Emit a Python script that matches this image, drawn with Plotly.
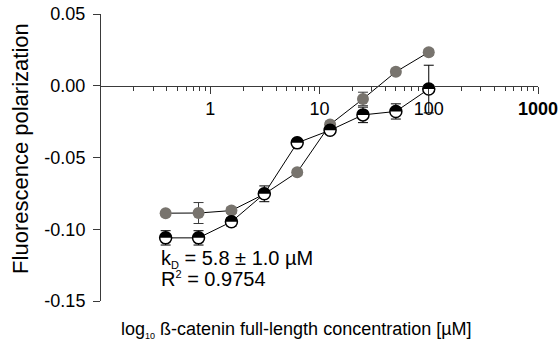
import plotly.graph_objects as go

# Data
conc = [0.390625, 0.78125, 1.5625, 3.125, 6.25, 12.5, 25, 50, 100]
grey_fp = [-0.0888, -0.0887, -0.0870, -0.0755, -0.0603, -0.0270, -0.0092, 0.0097, 0.0234]
grey_err = [0.001, 0.0073, 0.002, 0.002, 0.002, 0.002, 0.0047, 0.002, 0.002]
black_fp = [-0.1060, -0.1060, -0.0948, -0.0753, -0.0398, -0.0310, -0.0203, -0.0179, -0.0023]
black_err = [0.005, 0.005, 0.003, 0.0055, 0.002, 0.002, 0.0054, 0.0053, 0.0166]

x_tickvals = [1, 10, 100, 1000]
x_ticktext = ["1", "10", "100", "<b>1000</b>"]
y_tickvals = [0.05, 0.0, -0.05, -0.10, -0.15]
y_ticktext = ["0.05", "0.00", "-0.05", "-0.10", "-0.15"]

FONT = "Liberation Sans, Arial, sans-serif"
AX = "#3a3a3a"
GREY = "#78746e"

fig = go.Figure()

fig.add_trace(go.Scatter(
    x=conc, y=grey_fp, mode="lines+markers",
    line=dict(color="black", width=1),
    marker=dict(size=12, color=GREY, line=dict(width=0)),
    error_y=dict(type="data", array=grey_err, visible=True, color=AX, thickness=1, width=5),
    showlegend=False, cliponaxis=False,
))
fig.add_trace(go.Scatter(
    x=conc, y=black_fp, mode="lines+markers",
    line=dict(color="black", width=1),
    marker=dict(size=12, color="white", line=dict(width=1.5, color="black")),
    error_y=dict(type="data", array=black_err, visible=True, color="black", thickness=1, width=5),
    showlegend=False, cliponaxis=False,
))

# top half filled black for the second series markers
r = 6.0
k = 0.5523
half_path = (f"M{-r},0 C{-r},{k*r} {-k*r},{r} 0,{r} "
             f"C{k*r},{r} {r},{k*r} {r},0 Z")
shapes = []
for xv, yv in zip(conc, black_fp):
    shapes.append(dict(
        type="path", xref="x", yref="y", xsizemode="pixel", ysizemode="pixel",
        xanchor=xv, yanchor=yv, path=half_path,
        fillcolor="black", line=dict(width=0), layer="above",
    ))

minor_vals = [m * 10 ** d for d in (-1, 0, 1, 2) for m in range(2, 10)]

fig.update_layout(
    template="none",
    width=559, height=347,
    margin=dict(l=101, r=21, t=14, b=46, autoexpand=False),
    paper_bgcolor="white", plot_bgcolor="white",
    font=dict(family=FONT, color="black", size=18),
    shapes=shapes,
    xaxis=dict(
        type="log", range=[-1, 3], anchor="free", position=0.75,
        automargin=False,
        showgrid=False, zeroline=False,
        showline=True, linecolor=AX, linewidth=1,
        ticks="outside", ticklen=7, tickcolor=AX, tickwidth=1,
        tickmode="array", tickvals=x_tickvals, ticktext=x_ticktext,
        tickfont=dict(size=18, family=FONT),
        minor=dict(tickmode="array", tickvals=minor_vals, ticks="outside",
                   ticklen=4, tickcolor=AX, tickwidth=1, showgrid=False),
    ),
    yaxis=dict(
        range=[-0.15, 0.05], showgrid=False, zeroline=False,
        automargin=False,
        showline=True, linecolor=AX, linewidth=1,
        ticks="outside", ticklen=7, tickcolor=AX, tickwidth=1,
        tickmode="array", tickvals=y_tickvals, ticktext=y_ticktext,
        tickfont=dict(size=18, family=FONT), ticklabelstandoff=4,
    ),
    annotations=[
        dict(text="Fluorescence polarization", xref="paper", yref="paper",
             x=-0.183, y=0.53, xanchor="center", yanchor="middle",
             textangle=-90, showarrow=False, font=dict(size=22, family=FONT)),
        dict(text="log<sub><span style='font-size:9px'>10</span></sub> ß-catenin full-length concentration [µM]",
             xref="paper", yref="paper", x=0.4485, y=-0.101,
             xanchor="center", yanchor="middle", showarrow=False,
             font=dict(size=18, family=FONT)),
        dict(text="k<sub><span style='font-size:11px'>D</span></sub> = 5.8 ± 1.0 µM",
             xref="paper", yref="paper", x=(159 - 101) / 437, y=(301 - 259) / 287,
             xanchor="left", yanchor="middle", showarrow=False,
             font=dict(size=20, family=FONT)),
        dict(text="R<sup><span style='font-size:11px'>2</span></sup> = 0.9754",
             xref="paper", yref="paper", x=(159 - 101) / 437, y=(301 - 279) / 287,
             xanchor="left", yanchor="middle", showarrow=False,
             font=dict(size=20, family=FONT)),
    ],
)

fig.write_html("out.html")
